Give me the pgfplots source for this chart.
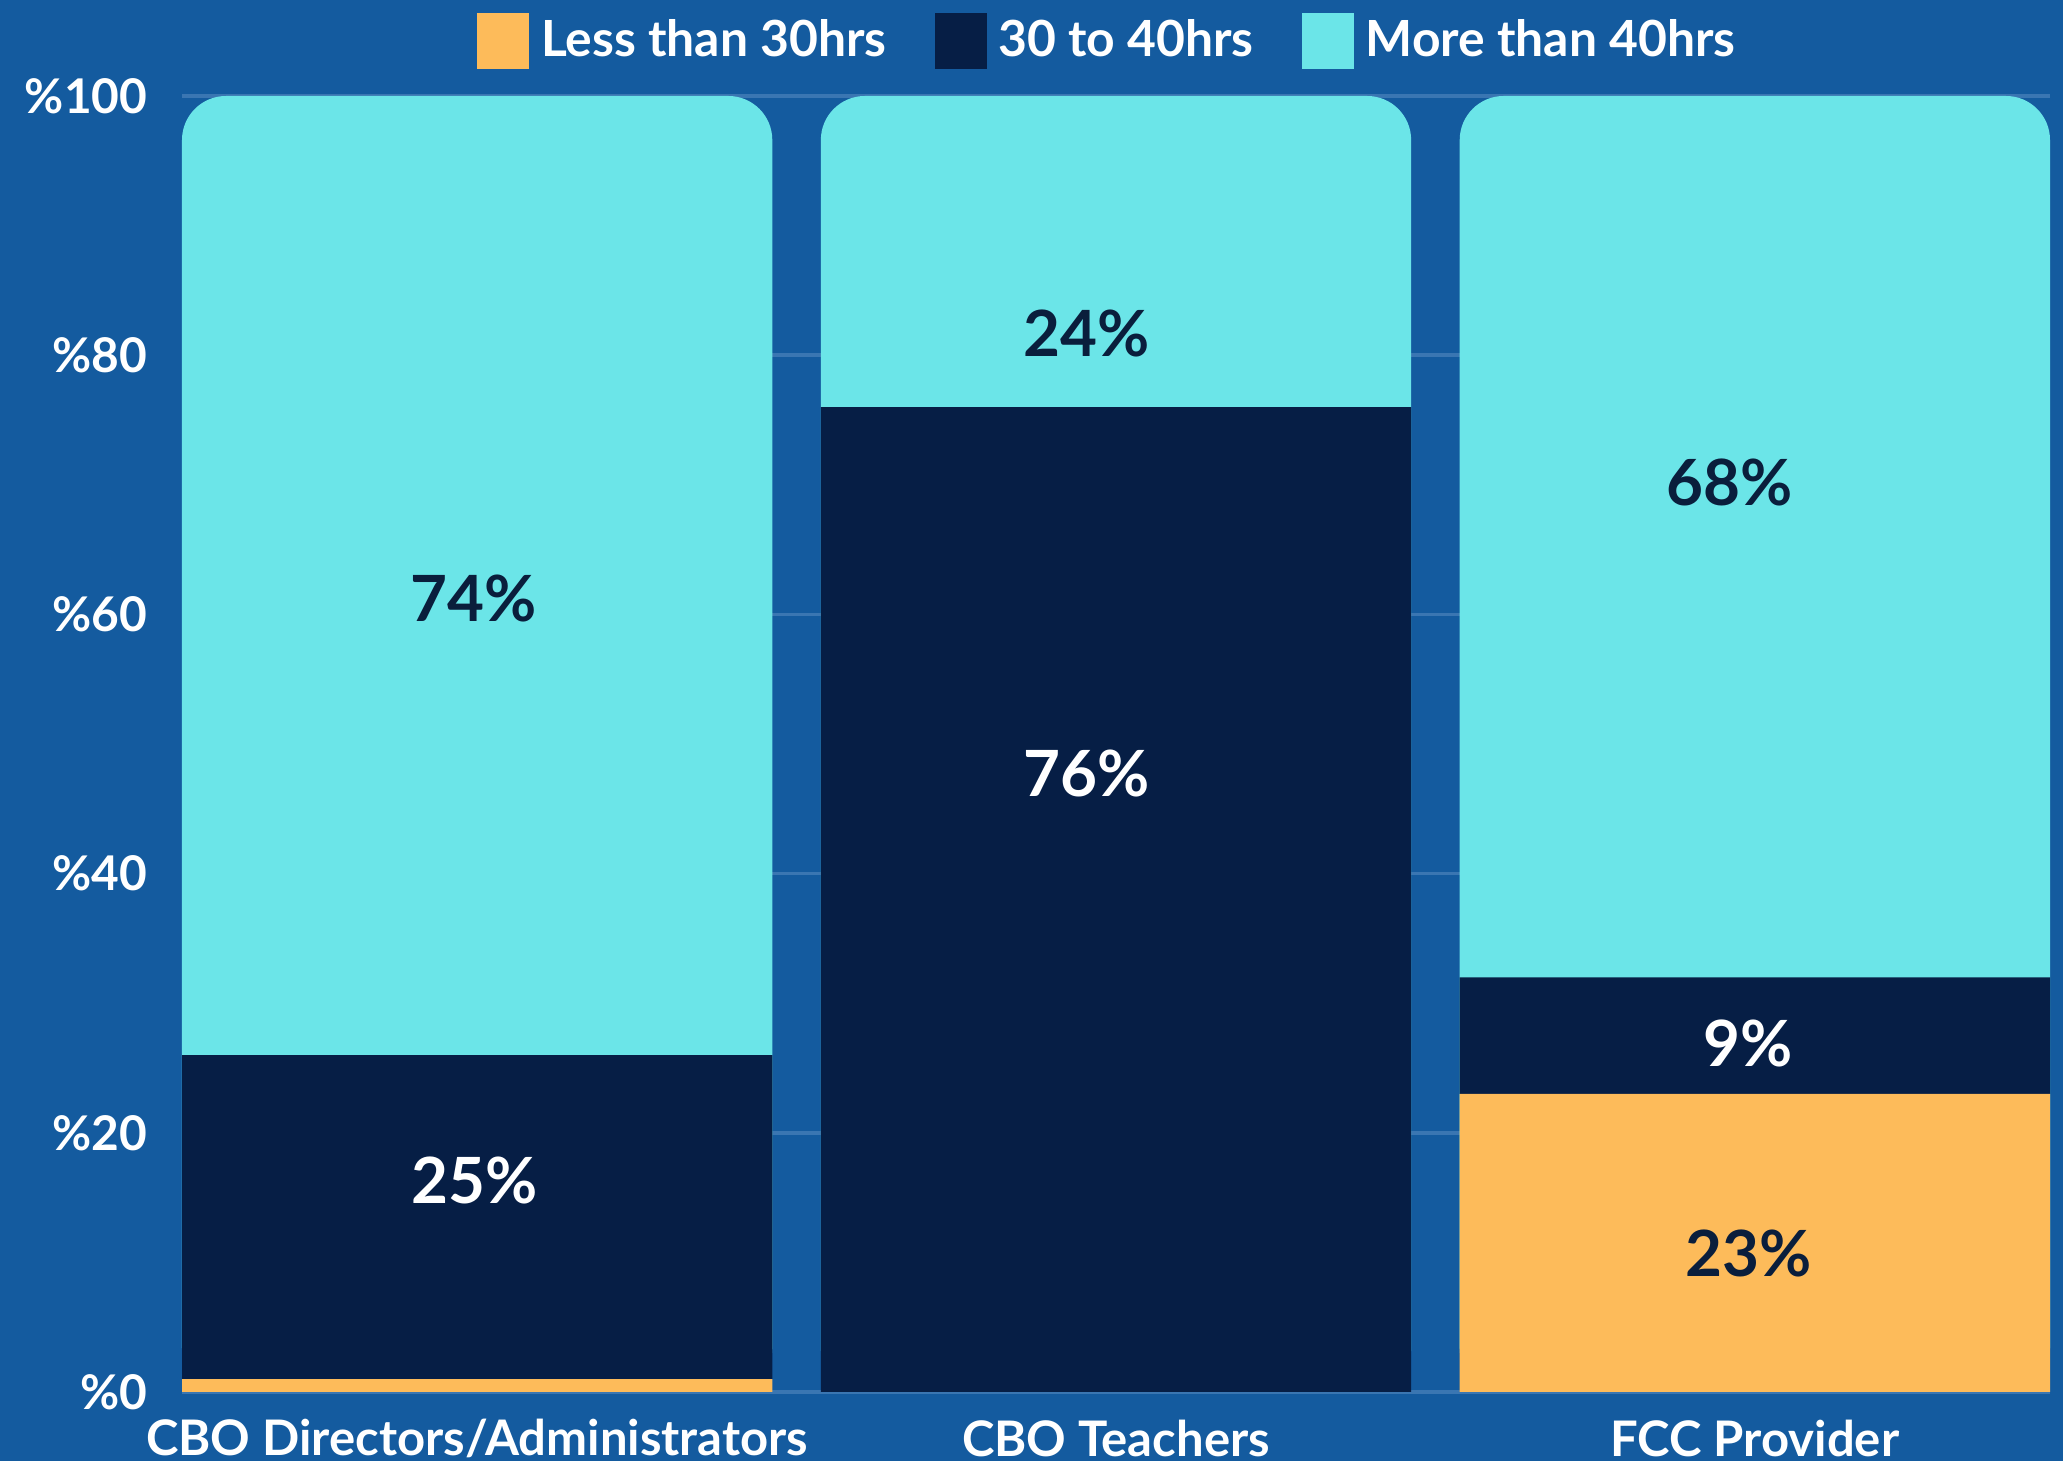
\documentclass[border=0pt]{standalone}
\usepackage{pgfplots}
\usepackage{pgfplotstable}
\pgfplotsset{compat=1.18}
\usepackage{fontspec}
\setmainfont{Lato}
\usetikzlibrary{backgrounds}

\definecolor{bgblue}{HTML}{145B9F}
\definecolor{gridblue}{HTML}{3A76B2}
\definecolor{lessc}{HTML}{FDBB5A}
\definecolor{midc}{HTML}{061E45}
\definecolor{morec}{HTML}{6BE5E8}
\definecolor{txtdark}{HTML}{0A1E3C}

% share of each group, in percent
\pgfplotstableread{
x less mid more
0 1  25 74
1 0  76 24
2 23 9  68
}\hours

% where the value labels sit
\pgfplotstableread{
x      y    label
-0.006 61.2 74\%
0.954  81.7 24\%
1.960  70.2 68\%
1.990  10.7 23\%
}\darklabels
\pgfplotstableread{
x      y    label
-0.004 16.3 25\%
0.954  47.7 76\%
1.990  26.9 9\%
}\whitelabels

\pgfplotsset{
  base/.style={
    scale only axis, width=467bp, height=324bp,
    xmin=-0.462, xmax=2.462, ymin=0, ymax=100,
    axis line style={draw=none}, major tick length=0pt,
  },
  swatch/.style={legend image code/.code={
    \fill[##1] (0bp,-7bp) rectangle (13bp,7bp);}},
}

\begin{document}
\begin{tikzpicture}
% grid, ticks and the rounded cyan tops
\begin{axis}[base,
  ymajorgrids, grid style={gridblue, line width=0.9pt},
  ytick={0,20,...,100},
  yticklabel={\%\pgfmathprintnumber{\tick}},
  /pgf/number format/assume math mode=true,
  yticklabel style={font=\bfseries\fontsize{12}{13}\selectfont, text=white,
    anchor=east, inner sep=0pt, xshift=-8.5bp},
  xtick={0,1,2},
  xticklabels={CBO Directors/Administrators, CBO Teachers, FCC Provider},
  xticklabel style={font=\bfseries\fontsize{12.3}{14}\selectfont, text=white,
    anchor=center, inner sep=0pt, yshift=-11.5bp},
]
\addplot[ybar, bar width=0.924, fill=morec, draw=none, rounded corners=11bp]
  table[x=x, y expr=\thisrow{less}+\thisrow{mid}+\thisrow{more}] {\hours};
\coordinate (SW) at (rel axis cs:0,0);
\coordinate (NE) at (rel axis cs:1,1);
\end{axis}

% lower stacked segments and the legend
\begin{axis}[base, ybar stacked, bar width=0.924,
  xtick=\empty, ytick=\empty,
  legend columns=3,
  legend style={draw=none, fill=none, text=white,
    font=\bfseries\fontsize{12.5}{14}\selectfont,
    at={(0.497,1)}, anchor=center, yshift=13.75bp,
    /tikz/every even column/.append style={column sep=10bp},
    /tikz/every odd column/.append style={column sep=1bp}},
]
\addplot[fill=lessc, draw=none, swatch] table[x=x, y=less] {\hours};
\addplot[fill=midc, draw=none, swatch] table[x=x, y=mid] {\hours};
\addlegendimage{fill=morec, draw=none, swatch}
\legend{Less than 30hrs, 30 to 40hrs, More than 40hrs}
\end{axis}

% value labels
\begin{axis}[base, hide axis]
\addplot[only marks, mark=none, nodes near coords, point meta=explicit symbolic,
  nodes near coords style={anchor=center, text=txtdark,
    font=\bfseries\fontsize{16}{18}\selectfont}]
  table[x=x, y=y, meta=label] {\darklabels};
\addplot[only marks, mark=none, nodes near coords, point meta=explicit symbolic,
  nodes near coords style={anchor=center, text=white,
    font=\bfseries\fontsize{16}{18}\selectfont}]
  table[x=x, y=y, meta=label] {\whitelabels};
\end{axis}

\begin{scope}[on background layer]
\fill[bgblue] ([xshift=-45.5bp,yshift=-17.25bp]SW) rectangle ([xshift=3.25bp,yshift=24bp]NE);
\end{scope}
\pgfresetboundingbox
\useasboundingbox ([xshift=-45.5bp,yshift=-17.25bp]SW) rectangle ([xshift=3.25bp,yshift=24bp]NE);
\end{tikzpicture}
\end{document}
